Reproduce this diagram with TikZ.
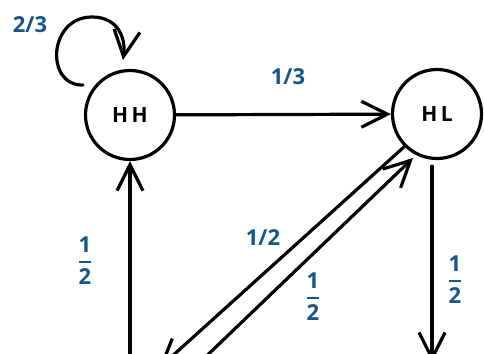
\documentclass[tikz,border=0pt]{standalone}
\usepackage{amsmath}
\usepackage{fontspec}
\setmainfont{Open Sans}
\usetikzlibrary{arrows.meta}
\definecolor{lbl}{RGB}{22,84,140}
\newcommand\myfr[2]{\ensuremath{\genfrac{}{}{2pt}{0}{\text{#1}}{\text{#2}}}}
\begin{document}
\begin{tikzpicture}[x=1pt,y=-1pt,
  st/.style={circle,draw,line width=3.2pt,minimum size=89pt,inner sep=0pt,font=\fontsize{21}{21}\selectfont\bfseries},
  edge/.style={line width=3.2pt,line cap=round,-{Straight Barb[length=26pt,width=26pt,line width=3.2pt]}},
  lab/.style={text=lbl,font=\fontsize{22}{22}\selectfont\bfseries,inner sep=0pt}]
\useasboundingbox (0,0) rectangle (484,353);
\clip (0,0) rectangle (484,353);
\node[st] (HH) at (130,115) {H\,H};
\node[st] (HL) at (437,114) {H\,L};
\coordinate (bl) at (130,400);
\coordinate (d1) at (159,368);
\coordinate (d2) at (194,368);
\coordinate (br) at (432,362);
\coordinate (ls) at (83,85);
\coordinate (le) at (123,60);
% self loop
\draw[edge] (ls) .. controls (45,86) and (48,17) .. (92,17) .. controls (118,17) and (126,38) .. (le);
% HH -> HL
\draw[edge] (HH) -- (HL);
% bottom -> HH
\draw[edge] (bl) -- (HH.south);
% HL -> bottom-left
\draw[edge] (HL.225) -- (d1);
% bottom -> HL
\draw[edge] (d2) -- (413,158);
% HL -> bottom
\draw[edge] ([xshift=-5pt]HL.south) ++(0,6) -- (br);
% labels
\node[lab] at (30,25) {2/3};
\node[lab] at (288,77) {1/3};
\node[lab] at (85,261) {\myfr{1}{2}};
\node[lab] at (263,238) {1/2};
\node[lab] at (313,297) {\myfr{1}{2}};
\node[lab] at (455,280) {\myfr{1}{2}};
\end{tikzpicture}
\end{document}
